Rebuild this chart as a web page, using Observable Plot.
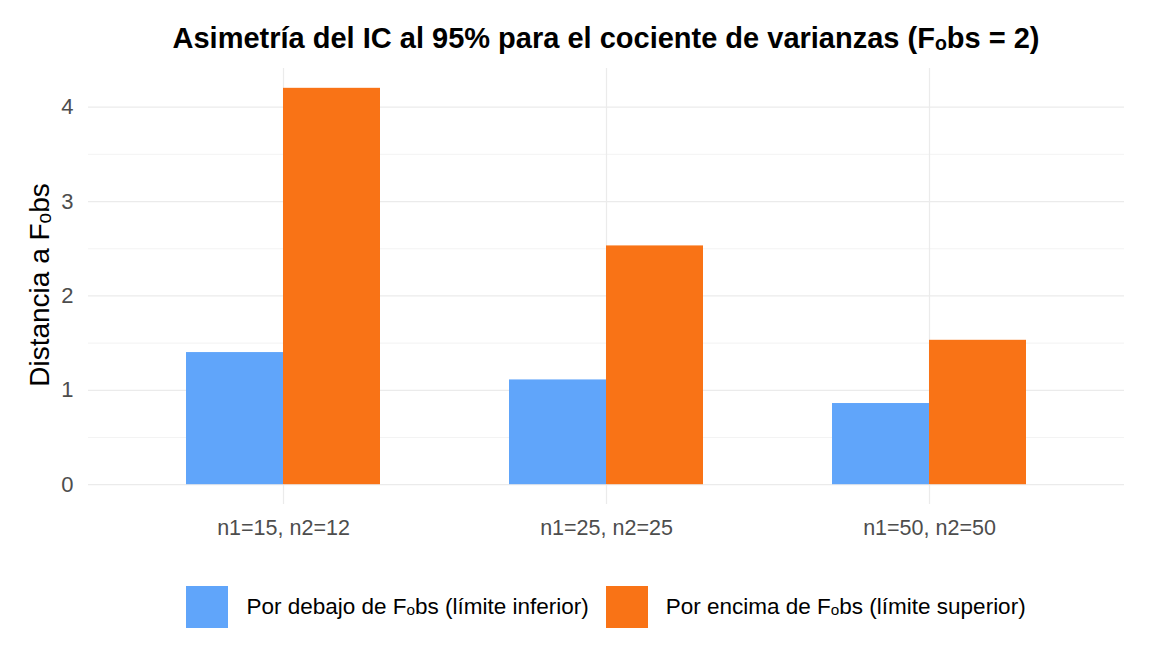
<!DOCTYPE html>
<html><head><meta charset="utf-8">
<script src="https://cdn.jsdelivr.net/npm/d3@7"></script>
<script src="https://cdn.jsdelivr.net/npm/@observablehq/plot@0.6"></script>
<style>
body{margin:0;background:#fff;font-family:"Liberation Sans",Arial,sans-serif;}
#wrap{position:relative;width:1152px;height:672px;overflow:hidden;}
#title{position:absolute;left:88px;width:1036px;top:22px;text-align:center;font-weight:bold;font-size:29px;color:#000;white-space:nowrap;}
#ylab{position:absolute;z-index:5;left:40px;top:285px;transform:translate(-50%,-50%) rotate(-90deg);font-size:28px;color:#000;white-space:nowrap;}
#chart{position:absolute;left:0;top:60px;z-index:1;}
#legend{position:absolute;top:586px;left:88px;width:1036px;display:flex;justify-content:center;align-items:center;font-size:22.5px;color:#000;}
.item{display:flex;align-items:center;margin:0 8.5px;}
.sw{width:42px;height:42px;margin-right:18px;}
</style></head>
<body><div id="wrap"><div id="title"></div><div id="chart"></div><div id="ylab"></div><div id="legend"></div></div>
<script>
const titleText = "Asimetría del IC al 95% para el cociente de varianzas (Fₒbs = 2)";
const yLabel = "Distancia a Fₒbs";
const groups = ["n1=15, n2=12", "n1=25, n2=25", "n1=50, n2=50"];
const series = ["Por debajo de Fₒbs (límite inferior)", "Por encima de Fₒbs (límite superior)"];
const colors = ["#60a5fa", "#f97316"];
const lowerValues = [1.40, 1.11, 0.86];
const upperValues = [4.20, 2.53, 1.53];
const yTicks = [0, 1, 2, 3, 4];
const yMinorTicks = [0.5, 1.5, 2.5, 3.5];
const yDomain = [-0.21, 4.41];

const data = [];
groups.forEach((g, i) => {
  data.push({group: g, series: series[0], value: lowerValues[i]});
  data.push({group: g, series: series[1], value: upperValues[i]});
});

document.getElementById("title").textContent = titleText;
document.getElementById("ylab").textContent = yLabel;

const base = {
  width: 1152, height: 490,
  marginTop: 8, marginBottom: 46, marginLeft: 88, marginRight: 28,
  style: {fontFamily: "'Liberation Sans', Arial, sans-serif", background: "transparent"},
  x: {type: "band", domain: groups, paddingInner: 0.4, paddingOuter: 0.3},
  y: {domain: yDomain}
};
const probe = Plot.plot({...base, marks: [Plot.barY(data, {x: "group", y: "value"})]});
const half = probe.scale("x").bandwidth / 2;

const chart = Plot.plot({
  ...base,
  color: {domain: series, range: colors},
  marks: [
    Plot.ruleY(yMinorTicks, {stroke: "#ebebeb", strokeWidth: 0.6}),
    Plot.gridY(yTicks, {stroke: "#ebebeb", strokeOpacity: 1, strokeWidth: 1.2}),
    Plot.gridX(groups, {stroke: "#ebebeb", strokeOpacity: 1, strokeWidth: 1.2}),
    Plot.barY(data.filter(d => d.series === series[0]), {x: "group", y1: 0, y2: "value", fill: "series", insetRight: half, insetLeft: 0}),
    Plot.barY(data.filter(d => d.series === series[1]), {x: "group", y1: 0, y2: "value", fill: "series", insetLeft: half, insetRight: 0}),
    Plot.axisY(yTicks, {tickSize: 0, tickPadding: 15, fontSize: 22, fill: "#4d4d4d", label: null, tickFormat: d3.format("d")}),
    Plot.axisX({tickSize: 0, tickPadding: 15, fontSize: 21.5, fill: "#4d4d4d", label: null})
  ]
});
document.getElementById("chart").appendChild(chart);

const legend = d3.select("#legend");
series.forEach((s, i) => {
  const it = legend.append("div").attr("class", "item");
  it.append("div").attr("class", "sw").style("background", colors[i]);
  it.append("span").text(s);
});
</script></body></html>
